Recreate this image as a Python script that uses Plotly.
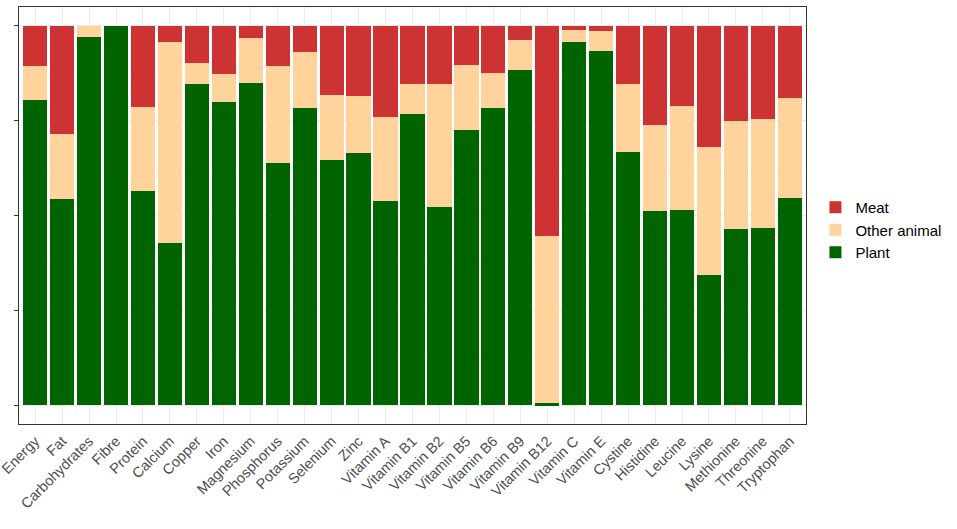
import plotly.graph_objects as go

categories = ["Energy", "Fat", "Carbohydrates", "Fibre", "Protein", "Calcium", "Copper", "Iron",
              "Magnesium", "Phosphorus", "Potassium", "Selenium", "Zinc", "Vitamin A", "Vitamin B1",
              "Vitamin B2", "Vitamin B5", "Vitamin B6", "Vitamin B9", "Vitamin B12", "Vitamin C",
              "Vitamin E", "Cystine", "Histidine", "Leucine", "Lysine", "Methionine", "Threonine",
              "Tryptophan"]

plant = [0.805, 0.543, 0.972, 1.000, 0.564, 0.427, 0.846, 0.800, 0.850, 0.638, 0.784, 0.646,
         0.664, 0.537, 0.767, 0.522, 0.726, 0.783, 0.885, 0.005, 0.959, 0.935, 0.668, 0.513,
         0.515, 0.343, 0.465, 0.468, 0.546]
other_animal = [0.090, 0.171, 0.028, 0.000, 0.223, 0.532, 0.055, 0.072, 0.117, 0.257, 0.148, 0.172,
                0.150, 0.224, 0.081, 0.326, 0.171, 0.092, 0.078, 0.440, 0.030, 0.052, 0.178, 0.227,
                0.274, 0.339, 0.283, 0.287, 0.263]
meat = [0.105, 0.286, 0.000, 0.000, 0.213, 0.041, 0.099, 0.128, 0.033, 0.105, 0.068, 0.182,
        0.186, 0.239, 0.152, 0.152, 0.103, 0.125, 0.037, 0.555, 0.011, 0.013, 0.154, 0.260,
        0.211, 0.318, 0.252, 0.245, 0.191]

y_ticks = [0, 0.25, 0.5, 0.75, 1.0]

fig = go.Figure()
for name, vals, col in [("Plant", plant, "#006400"),
                        ("Other animal", other_animal, "#FFD39B"),
                        ("Meat", meat, "#CD3333")]:
    fig.add_trace(go.Bar(x=categories, y=vals, name=name, marker_color=col,
                         marker_line_width=0, width=0.9))

fig.update_layout(
    width=957, height=529,
    barmode="stack",
    bargap=0.1,
    plot_bgcolor="white", paper_bgcolor="white",
    margin=dict(l=19, r=151, t=7, b=105, autoexpand=False),
    font=dict(family="Liberation Sans, Arial, sans-serif", size=14.5, color="#4D4D4D"),
    legend=dict(x=1.012, y=0.465, xanchor="left", yanchor="middle",
                font=dict(size=15, color="black"), traceorder="reversed",
                tracegroupgap=0, bgcolor="rgba(0,0,0,0)"),
    showlegend=True,
)
fig.update_xaxes(
    range=[-0.6, len(categories) - 0.4], automargin=False,
    tickangle=-45, showgrid=True, gridcolor="#EBEBEB", gridwidth=1,
    showline=True, linecolor="#333333", linewidth=1, mirror=True,
    ticks="", tickfont=dict(size=14.5, color="#4D4D4D"), ticklabelstandoff=2,
)
fig.update_yaxes(
    range=[-0.05, 1.05], tickvals=y_ticks, ticktext=[""] * len(y_ticks), automargin=False,
    showgrid=True, gridcolor="#EBEBEB", zeroline=False,
    minor=dict(tickvals=[0.125, 0.375, 0.625, 0.875], showgrid=True, gridcolor="#F5F5F5"),
    showline=True, linecolor="#333333", linewidth=1, mirror=True,
    ticks="outside", ticklen=4, tickcolor="#333333",
)

fig.write_html("out.html", config={"displayModeBar": False},
               post_script="document.body.style.margin='0';")
